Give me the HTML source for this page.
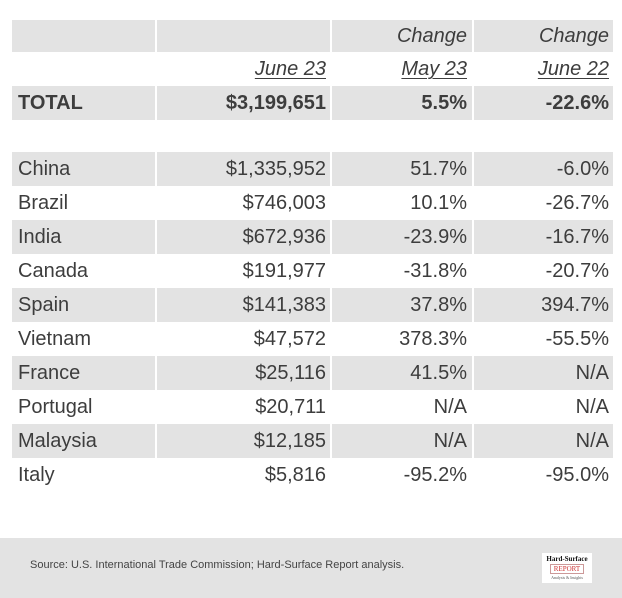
<!DOCTYPE html>
<html><head><style>
body{margin:0;width:622px;height:598px;background:#fff;position:relative;overflow:hidden;font-family:"Liberation Sans",Arial,sans-serif;color:#3d3d3d}
.r{position:absolute;left:12px;width:601px;height:34px;font-size:20px;line-height:34px}
.g{background:#e3e3e3}
.c{position:absolute;top:0;height:100%;box-sizing:border-box}
.c1{left:6px}
.c2{left:143px;width:175px;text-align:right;border-left:2px solid #fff;padding-right:4px}
.c3{left:318px;width:142px;text-align:right;border-left:2px solid #fff;padding-right:5px}
.c4{left:460px;width:141px;text-align:right;border-left:2px solid #fff;padding-right:4px}
.b{font-weight:bold}
.i{font-style:italic}
.u{text-decoration:underline;text-underline-offset:3px;text-decoration-thickness:1px}
</style></head><body>
<div class="r g" style="top:20px;height:32px;line-height:33px"><span class="c c1"></span><span class="c c2"></span><span class="c c3 i">Change</span><span class="c c4 i">Change</span></div>
<div class="r" style="top:52px"><span class="c c2 i" style="border-color:transparent"><span class="u">June 23</span></span><span class="c c3 i" style="border-color:transparent"><span class="u">May 23</span></span><span class="c c4 i" style="border-color:transparent"><span class="u">June 22</span></span></div>
<div class="r g b" style="top:86px"><span class="c c1">TOTAL</span><span class="c c2">$3,199,651</span><span class="c c3">5.5%</span><span class="c c4">-22.6%</span></div>
<div class="r g" style="top:152px"><span class="c c1">China</span><span class="c c2">$1,335,952</span><span class="c c3">51.7%</span><span class="c c4">-6.0%</span></div>
<div class="r" style="top:186px"><span class="c c1">Brazil</span><span class="c c2">$746,003</span><span class="c c3">10.1%</span><span class="c c4">-26.7%</span></div>
<div class="r g" style="top:220px"><span class="c c1">India</span><span class="c c2">$672,936</span><span class="c c3">-23.9%</span><span class="c c4">-16.7%</span></div>
<div class="r" style="top:254px"><span class="c c1">Canada</span><span class="c c2">$191,977</span><span class="c c3">-31.8%</span><span class="c c4">-20.7%</span></div>
<div class="r g" style="top:288px"><span class="c c1">Spain</span><span class="c c2">$141,383</span><span class="c c3">37.8%</span><span class="c c4">394.7%</span></div>
<div class="r" style="top:322px"><span class="c c1">Vietnam</span><span class="c c2">$47,572</span><span class="c c3">378.3%</span><span class="c c4">-55.5%</span></div>
<div class="r g" style="top:356px"><span class="c c1">France</span><span class="c c2">$25,116</span><span class="c c3">41.5%</span><span class="c c4">N/A</span></div>
<div class="r" style="top:390px"><span class="c c1">Portugal</span><span class="c c2">$20,711</span><span class="c c3">N/A</span><span class="c c4">N/A</span></div>
<div class="r g" style="top:424px"><span class="c c1">Malaysia</span><span class="c c2">$12,185</span><span class="c c3">N/A</span><span class="c c4">N/A</span></div>
<div class="r" style="top:458px"><span class="c c1">Italy</span><span class="c c2">$5,816</span><span class="c c3">-95.2%</span><span class="c c4">-95.0%</span></div>
<div style="position:absolute;left:0;top:538px;width:622px;height:60px;background:#e3e3e3"></div>
<div style="position:absolute;left:30px;top:559px;font-size:11px;color:#444">Source: U.S. International Trade Commission; Hard-Surface Report analysis.</div>
<div style="position:absolute;left:542px;top:553px;width:50px;height:30px;background:#fff;text-align:center;font-family:'Liberation Serif',serif">
<div style="font-size:7px;font-weight:bold;color:#111;margin-top:2px">Hard-Surface</div>
<div style="font-size:7px;color:#c33;border:1px solid #c99;margin:1px 8px;line-height:8px">REPORT</div>
<div style="font-size:4px;color:#555">Analysis &amp; Insights</div>
</div>
</body></html>
